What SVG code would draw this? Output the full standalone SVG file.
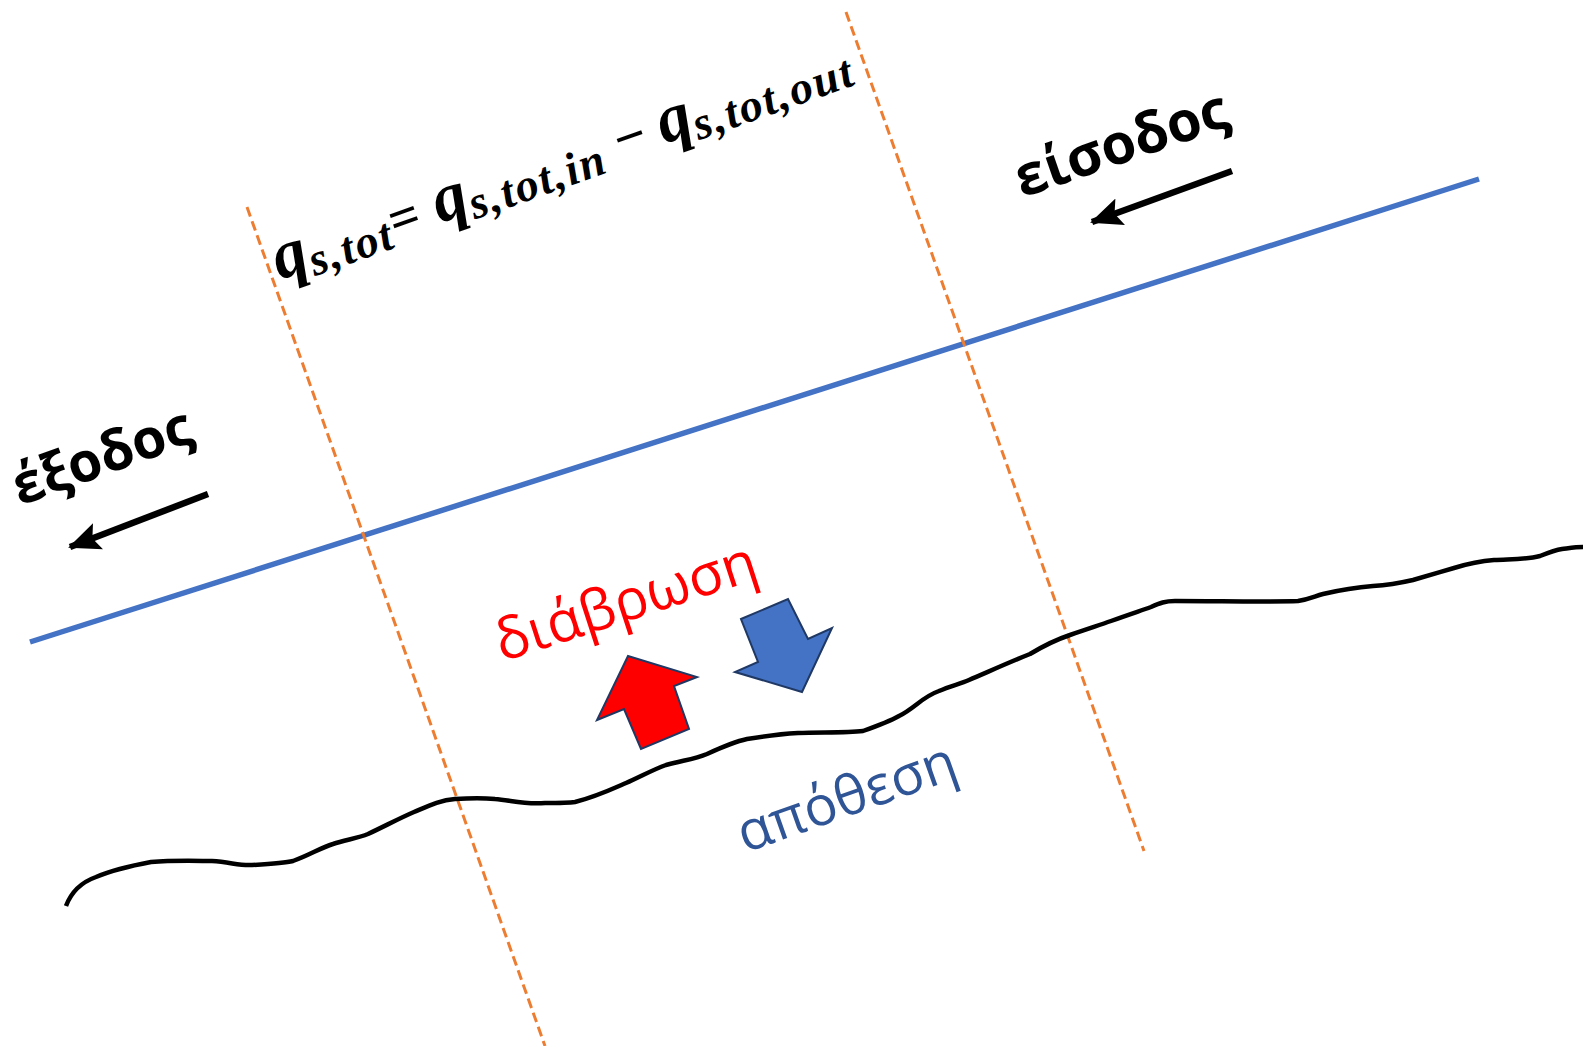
<svg xmlns="http://www.w3.org/2000/svg" width="1583" height="1046" viewBox="0 0 1583 1046">
<defs>
<marker id="ah" markerUnits="userSpaceOnUse" markerWidth="34" markerHeight="28" refX="30" refY="14" orient="auto">
<path d="M0,0 L32,14 L0,28 L6,14 z" fill="#000"/>
</marker>
<style>
.dash{stroke:#ED7D31;stroke-width:3;stroke-dasharray:10 5;fill:none}
.lbl{font-family:"Open Sans","Noto Sans","DejaVu Sans",sans-serif}
.eq{font-family:"Liberation Serif","DejaVu Serif",serif;font-weight:bold;font-style:italic;fill:#000}
</style>
</defs>
<rect width="1583" height="1046" fill="#fff"/>
<g id="connectors">
<line id="water" x1="30" y1="642" x2="1479" y2="179" stroke="#4472C4" stroke-width="5.5"/>
<line id="sec1" class="dash" x1="247" y1="207" x2="545" y2="1046"/>
<line id="sec2" class="dash" x1="846" y1="12" x2="1144" y2="851"/>
<path id="bed" d="M66,906 C72,890 82,882 96,877 C115,869 135,865 151,862 C175,860 200,861 212,861 C230,862 240,866 252,865 C270,864 285,863 293,861 C310,855 320,848 333,844 C345,840 358,838 368,834 C385,826 400,818 414,812 C428,806 440,800 455,799 C470,798 485,798 495,799 C510,800 525,805 545,803 C560,803 568,803 575,802 C595,797 610,790 626,783 C640,777 652,770 666,765 C685,760 695,759 707,754 C720,748 733,742 747,739 C765,736 780,734 798,733 C820,732 845,733 863,731 C880,725 892,720 899,716 C915,708 922,697 939,691 C950,686 960,684 969,680 C990,671 1010,662 1030,654 C1045,645 1055,640 1070,635 C1090,628 1100,625 1111,621 C1130,614 1140,611 1151,607 C1160,603 1165,601 1175,601 C1220,601 1270,602 1298,601 C1310,599 1315,596 1323,594 C1340,590 1360,587 1373,586 C1390,585 1400,583 1413,580 C1430,575 1440,572 1454,568 C1470,563 1480,561 1494,560 C1510,559 1525,560 1540,556 C1550,552 1555,550 1562,549 C1570,548 1576,547 1583,547" fill="none" stroke="#000" stroke-width="4.5" stroke-linejoin="round"/>
<line id="arrIn" x1="1232" y1="171" x2="1092" y2="222" stroke="#000" stroke-width="6.5" marker-end="url(#ah)"/>
<line id="arrOut" x1="208" y1="494" x2="70" y2="547" stroke="#000" stroke-width="6.5" marker-end="url(#ah)"/>
</g>
<g id="eq">
<text class="eq" transform="translate(280,280) rotate(-19.5)"><tspan font-size="68">q</tspan><tspan font-size="46" dy="8" letter-spacing="2">s,tot</tspan><tspan font-size="54" dy="-8">=</tspan><tspan font-size="68"> q</tspan><tspan font-size="46" dy="8" letter-spacing="2">s,tot,in</tspan><tspan font-size="56" dy="-8" font-style="normal"> − </tspan><tspan font-size="68">q</tspan><tspan font-size="46" dy="8" letter-spacing="2">s,tot,out</tspan></text>
</g>
<g id="eisodos">
<text class="lbl" font-size="56" font-weight="bold" fill="#000" transform="translate(1022,198) rotate(-19)">είσοδος</text>
</g>
<g id="exodos">
<text class="lbl" font-size="55" font-weight="bold" fill="#000" transform="translate(20,506) rotate(-20)">έξοδος</text>
</g>
<g id="diavrosi">
<text class="lbl" font-size="57" fill="#FF0000" transform="translate(502,662) rotate(-18)">διάβρωση</text>
</g>
<g id="apothesi">
<text class="lbl" font-size="55" fill="#2F5597" transform="translate(745,853) rotate(-19.5)">απόθεση</text>
</g>
<g id="upArrow">
<polygon points="628,656 697,677 674,686 689,729 641,749 624,709 597,720" fill="#FF0000" stroke="#1F3864" stroke-width="2"/>
</g>
<g id="downArrow">
<polygon points="741,619 788,599 808,639 832,628 802,692 735,672 758,662" fill="#4472C4" stroke="#1F3864" stroke-width="2"/>
</g>
</svg>
